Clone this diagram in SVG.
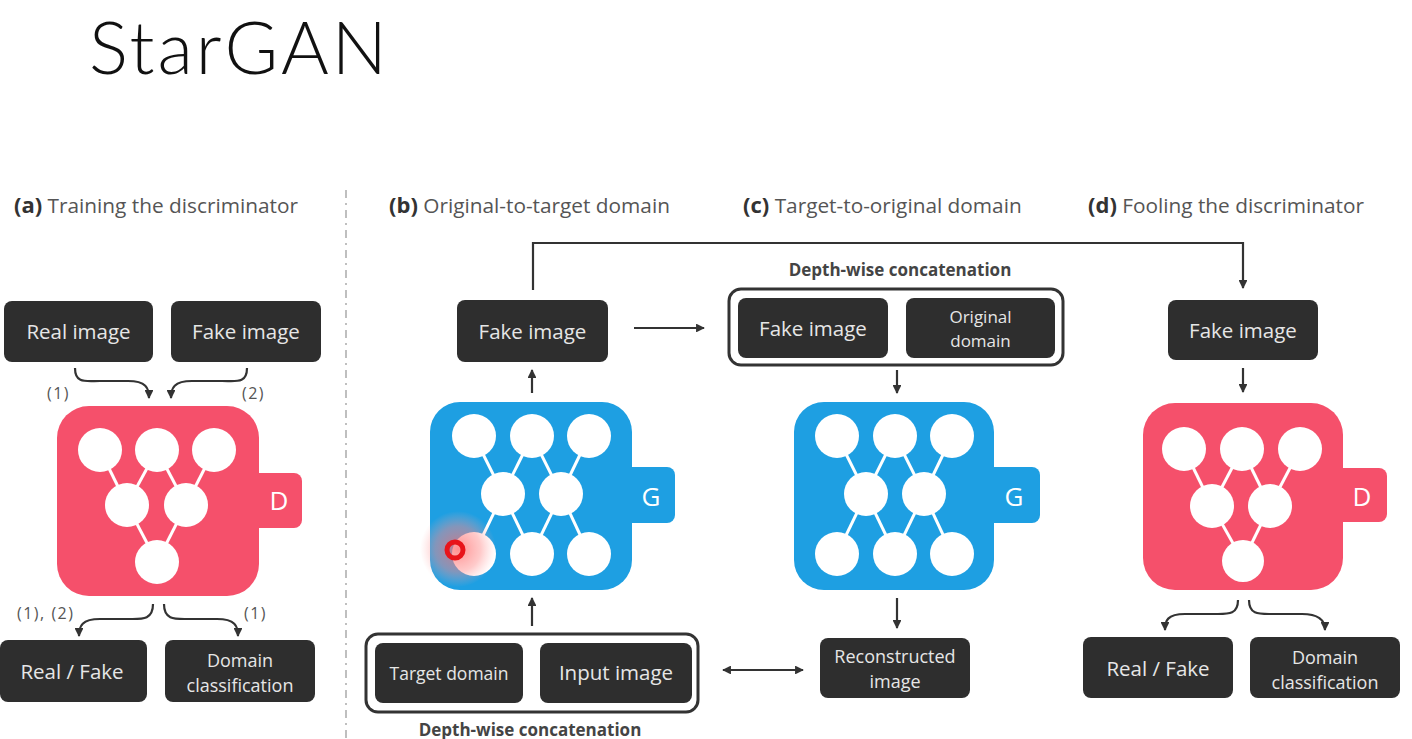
<svg xmlns="http://www.w3.org/2000/svg" width="1412" height="739" viewBox="0 0 1412 739">
<style>
.box{fill:#2e2e2e}
.bt{fill:#e6e6e6;font-family:"Open Sans",sans-serif;font-size:20.5px;text-anchor:middle}
.bt2{fill:#e6e6e6;font-family:"Open Sans",sans-serif;font-size:18px;text-anchor:middle}
.hd{fill:#555;font-family:"Open Sans",sans-serif;font-size:20.8px}
.hb{fill:#333;font-weight:bold;font-size:22px}
.lbl{fill:#555;font-family:"Open Sans",sans-serif;font-size:16px;letter-spacing:1.5px}
.cc{fill:#444;font-family:"Open Sans",sans-serif;font-size:17px;font-weight:bold;text-anchor:middle}
.pink{fill:#f5506b}
.blue{fill:#1e9fe2}
.nd{fill:#fff}
.ln{stroke:#fff;stroke-width:3}
.ar{fill:none;stroke:#333;stroke-width:2.2}
.frame{fill:#fff;stroke:#333;stroke-width:3}
.letter{fill:#fff;font-family:"Open Sans",sans-serif;font-size:26px;text-anchor:middle}
</style>
<defs>
<marker id="ah" viewBox="0 0 10 10" refX="9" refY="5" markerWidth="4" markerHeight="4" orient="auto-start-reverse">
<path d="M0,0 L10,5 L0,10 z" fill="#333"/>
</marker>
<radialGradient id="glow">
<stop offset="0" stop-color="#ff6a6a" stop-opacity="0.75"/>
<stop offset="0.6" stop-color="#ff8a8a" stop-opacity="0.45"/>
<stop offset="1" stop-color="#ffb0b0" stop-opacity="0"/>
</radialGradient>
</defs>
<rect width="1412" height="739" fill="#fff"/>

<text x="89" y="74" font-family="Lato, sans-serif" font-weight="300" font-size="73" letter-spacing="3" fill="#111">StarGAN</text>

<!-- headers -->
<text class="hd" x="14" y="213"><tspan class="hb">(a)</tspan> Training the discriminator</text>
<text class="hd" x="389" y="213"><tspan class="hb">(b)</tspan> Original-to-target domain</text>
<text class="hd" x="743" y="213"><tspan class="hb">(c)</tspan> Target-to-original domain</text>
<text class="hd" x="1088" y="213"><tspan class="hb">(d)</tspan> Fooling the discriminator</text>

<line x1="346" y1="190" x2="346" y2="739" stroke="#aaa" stroke-width="1.5" stroke-dasharray="8,5,2,5"/>

<!-- (a) -->
<g id="a-real-image"><rect class="box" x="4" y="301" width="149" height="61" rx="8"/><text class="bt" x="78.5" y="339">Real image</text></g>
<g id="a-fake-image"><rect class="box" x="171" y="301" width="150" height="61" rx="8"/><text class="bt" x="246" y="339">Fake image</text></g>
<g id="a-D">
<rect class="pink" x="230" y="473" width="72" height="55" rx="8"/>
<rect class="pink" x="57" y="406" width="202" height="190" rx="32"/>
<text class="letter" x="279" y="510">D</text>
<g class="ln"><line x1="100" y1="450" x2="127" y2="505"/><line x1="157" y1="450" x2="127" y2="505"/><line x1="157" y1="450" x2="186" y2="505"/><line x1="214" y1="450" x2="186" y2="505"/><line x1="127" y1="505" x2="157" y2="562"/><line x1="186" y1="505" x2="157" y2="562"/></g>
<g class="nd"><circle cx="100" cy="450" r="22"/><circle cx="157" cy="450" r="22"/><circle cx="214" cy="450" r="22"/><circle cx="127" cy="505" r="22"/><circle cx="186" cy="505" r="22"/><circle cx="157" cy="562" r="22"/></g>
</g>
<g id="a-real-fake"><rect class="box" x="0" y="640" width="147" height="62" rx="8"/><text class="bt" x="72" y="679">Real / Fake</text></g>
<g id="a-domain"><rect class="box" x="165" y="640" width="150" height="62" rx="8"/><text class="bt2" x="240" y="667">Domain</text><text class="bt2" x="240" y="692">classification</text></g>
<text class="lbl" x="47" y="399">(1)</text>
<text class="lbl" x="242" y="399">(2)</text>
<text class="lbl" x="17" y="619">(1), (2)</text>
<text class="lbl" x="244" y="619">(1)</text>

<!-- (b) -->
<g id="b-fake-image"><rect class="box" x="457" y="300" width="151" height="62" rx="8"/><text class="bt" x="532.5" y="339">Fake image</text></g>
<g id="b-G">
<rect class="blue" x="600" y="467" width="75" height="56" rx="8"/>
<rect class="blue" x="430" y="402" width="202" height="188" rx="30"/>
<text class="letter" x="651" y="506">G</text>
<g class="ln"><line x1="474" y1="436" x2="503" y2="494"/><line x1="532" y1="436" x2="503" y2="494"/><line x1="532" y1="436" x2="561" y2="494"/><line x1="589" y1="436" x2="561" y2="494"/><line x1="503" y1="494" x2="474" y2="554"/><line x1="503" y1="494" x2="532" y2="554"/><line x1="561" y1="494" x2="532" y2="554"/><line x1="561" y1="494" x2="589" y2="554"/></g>
<g class="nd"><circle cx="474" cy="436" r="22"/><circle cx="532" cy="436" r="22"/><circle cx="589" cy="436" r="22"/><circle cx="503" cy="494" r="22"/><circle cx="561" cy="494" r="22"/><circle cx="474" cy="554" r="22"/><circle cx="532" cy="554" r="22"/><circle cx="589" cy="554" r="22"/></g>
</g>
<g id="cursor">
<circle cx="458" cy="549" r="38" fill="url(#glow)"/>
<circle cx="455" cy="550" r="8" fill="none" stroke="#e8141a" stroke-width="5"/>
</g>
<g id="b-concat">
<rect class="frame" x="366" y="634" width="332" height="78" rx="12"/>
<rect class="box" x="375" y="643" width="148" height="60" rx="8"/><text class="bt" x="449" y="680" style="font-size:17.5px">Target domain</text>
<rect class="box" x="540" y="643" width="152" height="60" rx="8"/><text class="bt" x="616" y="680">Input image</text>
</g>
<text class="cc" x="530" y="736">Depth-wise concatenation</text>

<!-- (c) -->
<text class="cc" x="900" y="276">Depth-wise concatenation</text>
<g id="c-concat">
<rect class="frame" x="729" y="289" width="334" height="76" rx="12"/>
<rect class="box" x="738" y="298" width="150" height="60" rx="8"/><text class="bt" x="813" y="336">Fake image</text>
<rect class="box" x="906" y="298" width="149" height="60" rx="8"/><text class="bt2" x="980.5" y="323" style="font-size:17px">Original</text><text class="bt2" x="980.5" y="347" style="font-size:17px">domain</text>
</g>
<g id="c-G">
<rect class="blue" x="962" y="467" width="78" height="56" rx="8"/>
<rect class="blue" x="794" y="402" width="200" height="188" rx="30"/>
<text class="letter" x="1014" y="506">G</text>
<g class="ln"><line x1="837" y1="436" x2="866" y2="494"/><line x1="895" y1="436" x2="866" y2="494"/><line x1="895" y1="436" x2="924" y2="494"/><line x1="952" y1="436" x2="924" y2="494"/><line x1="866" y1="494" x2="837" y2="554"/><line x1="866" y1="494" x2="895" y2="554"/><line x1="924" y1="494" x2="895" y2="554"/><line x1="924" y1="494" x2="952" y2="554"/></g>
<g class="nd"><circle cx="837" cy="436" r="22"/><circle cx="895" cy="436" r="22"/><circle cx="952" cy="436" r="22"/><circle cx="866" cy="494" r="22"/><circle cx="924" cy="494" r="22"/><circle cx="837" cy="554" r="22"/><circle cx="895" cy="554" r="22"/><circle cx="952" cy="554" r="22"/></g>
</g>
<g id="c-reconstructed"><rect class="box" x="820" y="638" width="150" height="60" rx="8"/><text class="bt2" x="895" y="663">Reconstructed</text><text class="bt2" x="895" y="688">image</text></g>

<!-- (d) -->
<g id="d-fake-image"><rect class="box" x="1168" y="300" width="150" height="60" rx="8"/><text class="bt" x="1243" y="338">Fake image</text></g>
<g id="d-D">
<rect class="pink" x="1310" y="468" width="77" height="54" rx="8"/>
<rect class="pink" x="1143" y="403" width="200" height="187" rx="32"/>
<text class="letter" x="1362" y="506">D</text>
<g class="ln"><line x1="1184" y1="449" x2="1212" y2="506"/><line x1="1242" y1="449" x2="1212" y2="506"/><line x1="1242" y1="449" x2="1270" y2="506"/><line x1="1300" y1="449" x2="1270" y2="506"/><line x1="1212" y1="506" x2="1243" y2="561"/><line x1="1270" y1="506" x2="1243" y2="561"/></g>
<g class="nd"><circle cx="1184" cy="449" r="22"/><circle cx="1242" cy="449" r="22"/><circle cx="1300" cy="449" r="22"/><circle cx="1212" cy="506" r="22"/><circle cx="1270" cy="506" r="22"/><circle cx="1243" cy="561" r="21"/></g>
</g>
<g id="d-real-fake"><rect class="box" x="1083" y="637" width="150" height="61" rx="8"/><text class="bt" x="1158" y="676">Real / Fake</text></g>
<g id="d-domain"><rect class="box" x="1250" y="637" width="150" height="61" rx="8"/><text class="bt2" x="1325" y="664">Domain</text><text class="bt2" x="1325" y="689">classification</text></g>

<!-- connectors -->
<g id="connectors">
<path class="ar" marker-end="url(#ah)" d="M75,368 C75,384 86,381 100,381 L128,381 C146,381 149,388 149,398"/>
<path class="ar" marker-end="url(#ah)" d="M247,368 C247,384 236,381 222,381 L192,381 C174,381 171,388 171,398"/>
<path class="ar" marker-end="url(#ah)" d="M153,604 C153,620 142,619 130,619 L100,619 C82,619 79,626 79,636"/>
<path class="ar" marker-end="url(#ah)" d="M164,604 C164,620 175,619 187,619 L217,619 C235,619 238,626 238,636"/>
<path class="ar" marker-end="url(#ah)" d="M532,393 V370"/>
<path class="ar" marker-end="url(#ah)" d="M532,626 V598"/>
<path class="ar" marker-end="url(#ah)" d="M634,328 H704"/>
<path class="ar" marker-start="url(#ah)" marker-end="url(#ah)" d="M723,670 H803"/>
<path class="ar" marker-end="url(#ah)" d="M533,290 V243 H1243 V288"/>
<path class="ar" marker-end="url(#ah)" d="M897,370 V393"/>
<path class="ar" marker-end="url(#ah)" d="M897,598 V628"/>
<path class="ar" marker-end="url(#ah)" d="M1243,368 V392"/>
<path class="ar" marker-end="url(#ah)" d="M1238,600 C1238,615 1228,614 1215,614 L1185,614 C1167,614 1165,621 1165,630"/>
<path class="ar" marker-end="url(#ah)" d="M1249,600 C1249,615 1259,614 1272,614 L1302,614 C1320,614 1325,621 1325,630"/>
</g>
</svg>
